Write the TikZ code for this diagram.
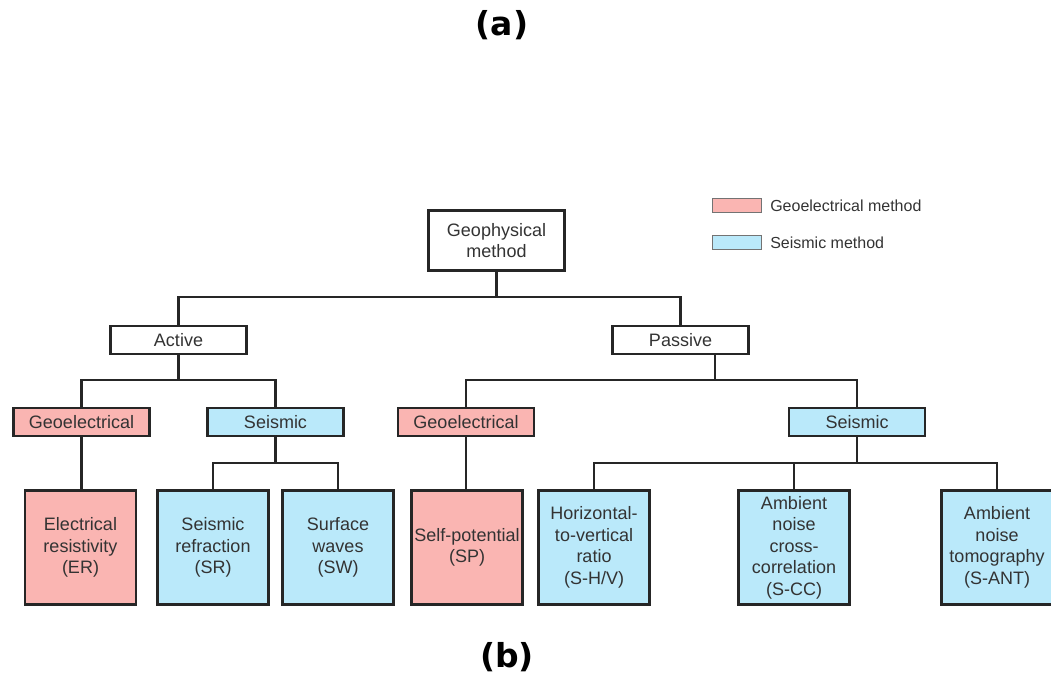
\documentclass[tikz,border=0pt]{standalone}
\usepackage{fontspec}
\setmainfont{Liberation Sans}
\newfontfamily\tagfont{DejaVu Sans}
\usetikzlibrary{positioning}
\definecolor{geoPink}{RGB}{250,181,178}
\definecolor{seisBlue}{RGB}{186,233,250}
\definecolor{txtGray}{RGB}{51,51,51}
\def\boxwd{136pt}

\begin{document}
\begin{tikzpicture}[x=1pt,y=-1pt,line width=2.3pt,draw=black!85]
\tikzstyle{box}=[draw, line width=2.7pt, inner sep=0pt, minimum width=\boxwd, align=center, text=txtGray, font=\fontsize{18}{21.5}\selectfont]
\tikzstyle{class box}=[box, minimum height=28pt]
\tikzstyle{method box}=[box, minimum width=111pt, minimum height=114pt]
\tikzstyle{key}=[draw=black!55, line width=1.2pt, minimum width=49pt, minimum height=14pt, inner sep=0pt]
\tikzstyle{key label}=[text=txtGray, font=\fontsize{16}{19}\selectfont, inner sep=0pt]
\tikzstyle{tag}=[font=\tagfont\bfseries\fontsize{33}{38}\selectfont]

\useasboundingbox (0,0) rectangle (1051,675);

% Panel tags
\node[tag] (tag-a) at (502,25) {(a)};
\node[tag] (tag-b) at (507,657) {(b)};

% Root and the two kinds of survey
\node[box, minimum height=60pt] (GM) at (496.5,240.5) {Geophysical\\method};
\node[class box] (A) at (178.5,340) {Active};
\node[class box] (P) at (680.5,340) {Passive};

% Second level
\node[class box, fill=geoPink] (AG) at (81.5,422) {Geoelectrical};
\node[class box, fill=seisBlue] (AS) at (275.5,422) {Seismic};
\node[class box, fill=geoPink] (PG) at (466,422) {Geoelectrical};
\node[class box, fill=seisBlue] (PS) at (857,422) {Seismic};

% Draw the method boxes
\foreach \name/\x/\col/\txt in {ER/80.5/geoPink/{Electrical\\resistivity\\(ER)},
  SR/213/seisBlue/{Seismic\\refraction\\(SR)},
  SW/338/seisBlue/{Surface\\waves\\(SW)},
  SP/467/geoPink/{Self-potential\\(SP)},
  HV/594/seisBlue/{Horizontal-\\to-vertical\\ratio\\(S-H/V)},
  CC/794/seisBlue/{Ambient\\noise\\cross-\\correlation\\(S-CC)},
  ANT/997/seisBlue/{Ambient\\noise\\tomography\\(S-ANT)}}
\node[method box, fill=\col] (M-\name) at (\x,547.5) {\txt};

% Junction points
\coordinate (J-top) at (496.5,297);
\coordinate (J-act) at (178.5,380);
\coordinate (J-pas) at (715,380);
\coordinate (J-aseis) at (275.5,463);
\coordinate (J-pseis) at (857,463);

% Connect the tree
\draw (GM.south) -- (J-top);
\draw (A.north) |- (J-top) -| (P.north);
\draw (A.south) -- (J-act);
\draw (AG.north) |- (J-act) -| (AS.north);
\draw (P.south -| J-pas) -- (J-pas);
\draw (PG.north) |- (J-pas) -| (PS.north);
\draw (AG.south) -- (AG.south |- M-ER.north);
\draw (AS.south) -- (J-aseis);
\draw (M-SR.north) |- (J-aseis) -| (M-SW.north);
\draw (PG.south) -- (PG.south |- M-SP.north);
\draw (PS.south) -- (J-pseis);
\draw (M-HV.north) |- (J-pseis) -| (M-ANT.north);
\draw (M-CC.north) -- (M-CC.north |- J-pseis);

% Legend
\node[key, fill=geoPink] (K-geo) at (737,205.5) {};
\node[key, fill=seisBlue] (K-seis) at (737,242.5) {};
\node[key label, right=7pt of K-geo] (KL-geo) {Geoelectrical method};
\node[key label, right=7pt of K-seis] (KL-seis) {Seismic method};

\end{tikzpicture}
\end{document}
